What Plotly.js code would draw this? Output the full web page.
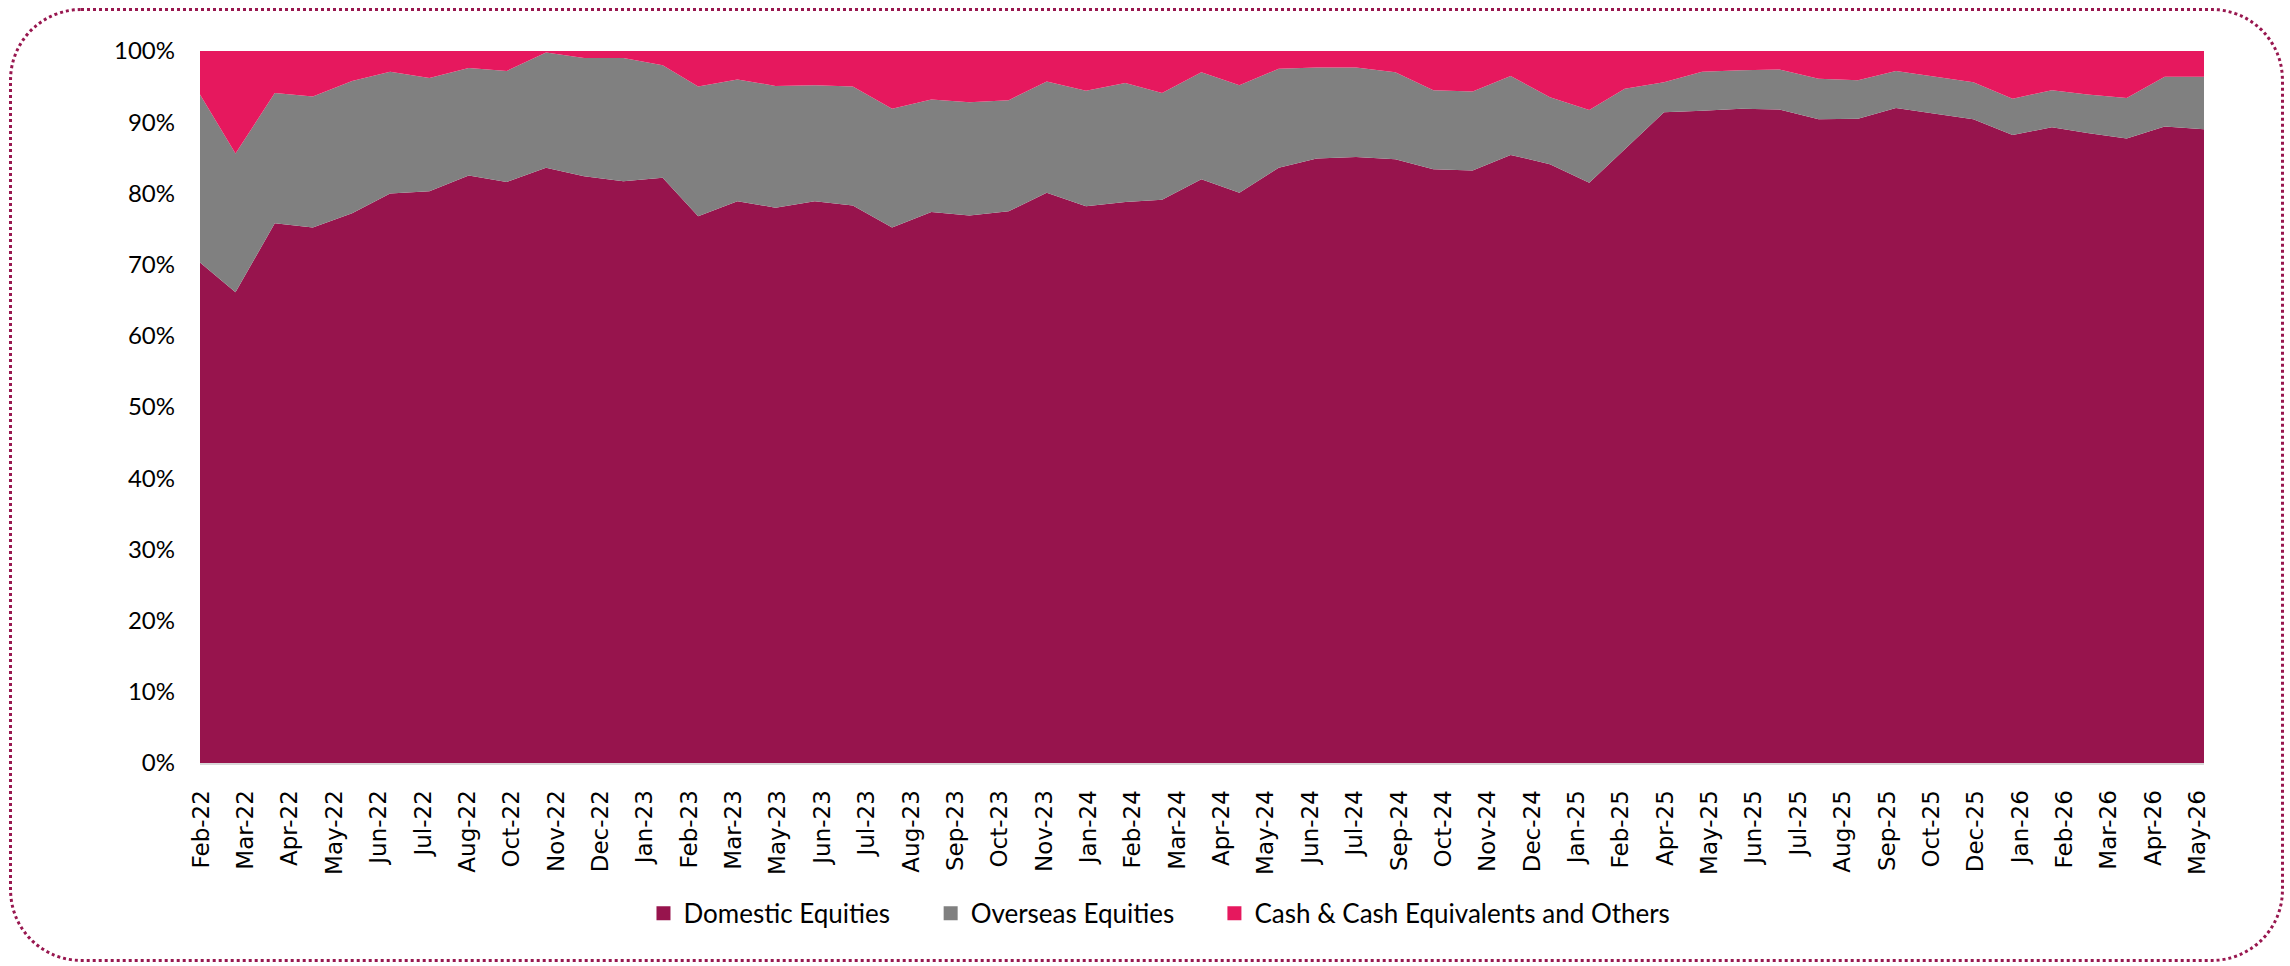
<!DOCTYPE html>
<html>
<head>
<meta charset="utf-8">
<script src="https://cdn.plot.ly/plotly-3.0.1.min.js"></script>
<style>
  html, body { margin: 0; padding: 0; background: #ffffff; }
  #wrap { position: relative; width: 2290px; height: 966px; }
  #chart { position: absolute; left: 0; top: 0; width: 2290px; height: 966px; }
  #frame {
    position: absolute; left: 9px; top: 8px; width: 2269px; height: 948px;
    border: 3px dotted #98174f; border-radius: 72px; pointer-events: none;
  }
</style>
</head>
<body>
<div id="wrap">
  <div id="chart"></div>
  <div id="frame"></div>
</div>
<script>
// Month-end dates of each observation
var months = [
  '2022-01-31','2022-02-28','2022-03-31','2022-04-30','2022-05-31','2022-06-30','2022-07-31','2022-08-31','2022-09-30','2022-10-31','2022-11-30','2022-12-31',
  '2023-01-31','2023-02-28','2023-03-31','2023-04-30','2023-05-31','2023-06-30','2023-07-31','2023-08-31','2023-09-30','2023-10-31','2023-11-30','2023-12-31',
  '2024-01-31','2024-02-29','2024-03-31','2024-04-30','2024-05-31','2024-06-30','2024-07-31','2024-08-31','2024-09-30','2024-10-31','2024-11-30','2024-12-31',
  '2025-01-31','2025-02-28','2025-03-31','2025-04-30','2025-05-31','2025-06-30','2025-07-31','2025-08-31','2025-09-30','2025-10-31','2025-11-30','2025-12-31',
  '2026-01-31','2026-02-28','2026-03-31','2026-04-30','2026-05-31'
];

// Allocation (%)
var domestic = [
  70.3, 66.1, 75.8, 75.2, 77.2, 80.0, 80.3, 82.5, 81.6, 83.6, 82.4, 81.7,
  82.2, 76.8, 78.9, 78.0, 78.9, 78.3, 75.2, 77.4, 76.9, 77.5, 80.1, 78.2,
  78.8, 79.1, 82.0, 80.1, 83.6, 84.9, 85.1, 84.8, 83.4, 83.2, 85.4, 84.1,
  81.5, 86.2, 91.4, 91.6, 91.9, 91.8, 90.4, 90.5, 92.0, 91.2, 90.4, 88.2,
  89.3, 88.5, 87.7, 89.4, 89.0
];
var overseas = [
  23.6, 19.5, 18.3, 18.4, 18.6, 17.1, 15.9, 15.1, 15.6, 16.2, 16.6, 17.3,
  15.8, 18.2, 17.1, 17.1, 16.3, 16.7, 16.7, 15.8, 15.9, 15.6, 15.6, 16.2,
  16.7, 15.0, 15.0, 15.1, 13.9, 12.8, 12.6, 12.2, 11.1, 11.1, 11.1, 9.4,
  10.2, 8.5, 4.2, 5.5, 5.4, 5.6, 5.7, 5.4, 5.2, 5.2, 5.2, 5.1,
  5.2, 5.4, 5.7, 7.0, 7.4
];
var cash = [
  6.1, 14.4, 5.9, 6.4, 4.2, 2.9, 3.8, 2.4, 2.8, 0.2, 1.0, 1.0,
  2.0, 5.0, 4.0, 4.9, 4.8, 5.0, 8.1, 6.8, 7.2, 6.9, 4.3, 5.6,
  4.5, 5.9, 3.0, 4.8, 2.5, 2.3, 2.3, 3.0, 5.5, 5.7, 3.5, 6.5,
  8.3, 5.3, 4.4, 2.9, 2.7, 2.6, 3.9, 4.1, 2.8, 3.6, 4.4, 6.7,
  5.5, 6.1, 6.6, 3.6, 3.6
];

var seriesNames = ['Domestic Equities', 'Overseas Equities', 'Cash & Cash Equivalents and Others'];
var seriesColors = ['#97144d', '#808080', '#e6185e'];
var seriesValues = [domestic, overseas, cash];
var legendIds = ['legend', 'legend2', 'legend3'];
var legendX = [0.2213, 0.3646, 0.5062];

var traces = [];
seriesValues.forEach(function (vals, k) {
  traces.push({
    type: 'scatter', mode: 'lines', x: months, y: vals,
    stackgroup: 'alloc', name: seriesNames[k],
    line: { width: 0, color: seriesColors[k] },
    fillcolor: seriesColors[k], showlegend: false, hoverinfo: 'skip'
  });
});
// legend entries with square markers
seriesNames.forEach(function (nm, k) {
  traces.push({
    type: 'scatter', mode: 'markers', x: [null], y: [null], name: nm,
    legend: legendIds[k],
    marker: { symbol: 'square', size: 14, color: seriesColors[k] },
    showlegend: true, hoverinfo: 'skip'
  });
});

var layout = {
  width: 2290, height: 966, autosize: false,
  margin: { l: 200, r: 86, t: 51, b: 203, pad: 0 },
  paper_bgcolor: 'rgba(0,0,0,0)', plot_bgcolor: '#ffffff',
  showlegend: true,
  xaxis: {
    type: 'date', range: [months[0], months[months.length - 1]],
    tick0: '2022-02-01', dtick: 35 * 86400000, tickformat: '%b-%y',
    tickangle: -90, ticks: '', showgrid: false, zeroline: false,
    showline: true, linecolor: '#d9d9d9', linewidth: 2,
    ticklabelstandoff: 16,
    tickfont: { family: 'DejaVu Sans', size: 23, color: '#000000' }
  },
  yaxis: {
    range: [0, 100], dtick: 10, ticksuffix: '%', ticks: '',
    showgrid: false, zeroline: false, showline: false,
    ticklabelstandoff: 24,
    tickfont: { family: 'Lato', size: 24, color: '#000000' }
  }
};
legendIds.forEach(function (id, k) {
  layout[id] = {
    orientation: 'h', x: legendX[k], xanchor: 'left', y: -0.211, yanchor: 'middle',
    font: { family: 'Lato', size: 26, color: '#000000' }, bgcolor: 'rgba(0,0,0,0)'
  };
});

Plotly.newPlot('chart', traces, layout, { displayModeBar: false, staticPlot: true });
</script>
</body>
</html>
